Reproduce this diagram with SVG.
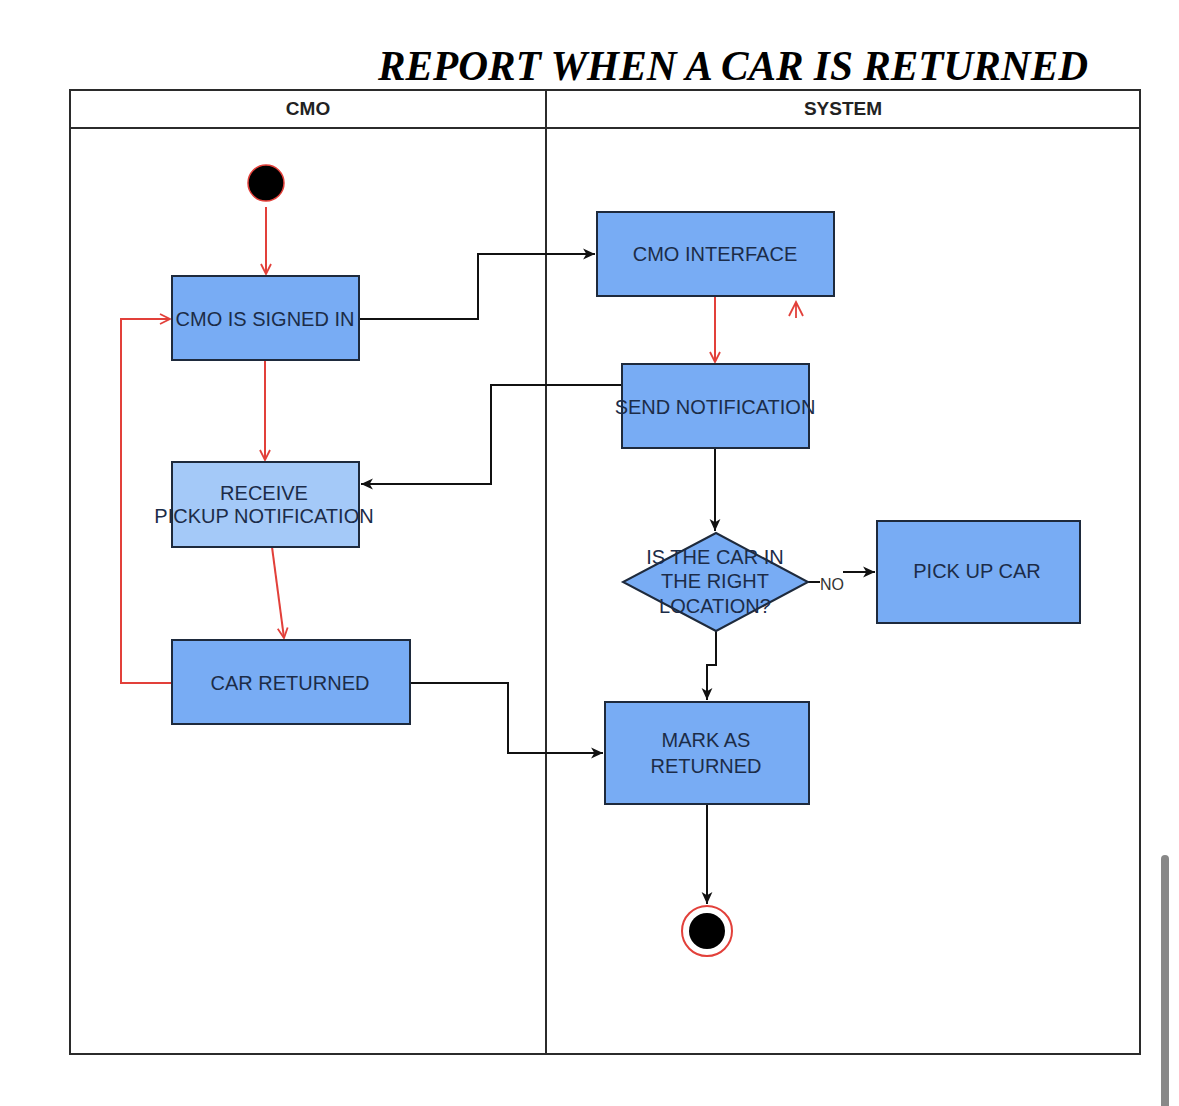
<svg xmlns="http://www.w3.org/2000/svg" width="1179" height="1106" viewBox="0 0 1179 1106">
<defs>
<style>
.lane{fill:none;stroke:#2b2b2b;stroke-width:2}
.hdr{font-family:"Liberation Sans",Arial,sans-serif;font-size:19px;font-weight:bold;fill:#222;text-anchor:middle}
.box{fill:#78acf4;stroke:#1e2a3c;stroke-width:2}
.box2{fill:#a4c9f8;stroke:#1e2a3c;stroke-width:2}
.lbl{font-family:"Liberation Sans",Arial,sans-serif;font-size:20px;fill:#1c2c48;text-anchor:middle}
.red{fill:none;stroke:#e2403a;stroke-width:2}
.blk{fill:none;stroke:#111;stroke-width:2}
</style>
<marker id="openR" viewBox="0 0 12 12" refX="11" refY="6" markerWidth="12" markerHeight="12" markerUnits="userSpaceOnUse" orient="auto">
<path d="M1,1 L11,6 L1,11" fill="none" stroke="#e2403a" stroke-width="1.8"/>
</marker>
<marker id="fillB" viewBox="0 0 12 12" refX="11" refY="6" markerWidth="13" markerHeight="13" markerUnits="userSpaceOnUse" orient="auto">
<path d="M0,1 L11,6 L0,11 L3,6 Z" fill="#111"/>
</marker>
</defs>
<rect width="1179" height="1106" fill="#fff"/>
<text x="733" y="80" font-family="'Liberation Serif','Times New Roman',serif" font-size="42" font-weight="bold" font-style="italic" fill="#000" text-anchor="middle" textLength="710" lengthAdjust="spacingAndGlyphs">REPORT WHEN A CAR IS RETURNED</text>
<g id="pool">
<rect class="lane" x="70" y="90" width="1070" height="964"/>
<line class="lane" x1="70" y1="128" x2="1140" y2="128"/>
<line class="lane" x1="546" y1="90" x2="546" y2="1054"/>
<text class="hdr" x="308" y="115">CMO</text>
<text class="hdr" x="843" y="115">SYSTEM</text>
</g>
<g id="connectors">
<path class="red" d="M266,207 V274" marker-end="url(#openR)"/>
<path class="blk" d="M359,319 H478 V254 H595" marker-end="url(#fillB)"/>
<path class="red" d="M715,296 V362" marker-end="url(#openR)"/>
<path d="M789,316 L796,302 L803,316 M796,302 V318" fill="none" stroke="#e2403a" stroke-width="1.8"/>
<path class="blk" d="M622,385 H491 V484 H361" marker-end="url(#fillB)"/>
<path class="red" d="M265,360 V460" marker-end="url(#openR)"/>
<path class="red" d="M272,547 L284,638" marker-end="url(#openR)"/>
<path class="red" d="M172,683 H121 V319 H170" marker-end="url(#openR)"/>
<path class="blk" d="M410,683 H508 V753 H603" marker-end="url(#fillB)"/>
<path class="blk" d="M715,448 V531" marker-end="url(#fillB)"/>
<path class="blk" d="M808,582 H820"/>
<path class="blk" d="M843,572 H875" marker-end="url(#fillB)"/>
<text x="832" y="590" font-family="'Liberation Sans',Arial,sans-serif" font-size="16" fill="#333" text-anchor="middle">NO</text>
<path class="blk" d="M716,631 V665 H707 V700" marker-end="url(#fillB)"/>
<path class="blk" d="M707,804 V904" marker-end="url(#fillB)"/>
</g>
<g id="start">
<circle cx="266" cy="183" r="18" fill="#000" stroke="#e2403a" stroke-width="1.5"/>
</g>
<g id="signed-in">
<rect class="box" x="172" y="276" width="187" height="84"/>
<text class="lbl" x="265" y="326">CMO IS SIGNED IN</text>
</g>
<g id="receive">
<rect class="box2" x="172" y="462" width="187" height="85"/>
<text class="lbl" x="264" y="500">RECEIVE</text>
<text class="lbl" x="264" y="523">PICKUP NOTIFICATION</text>
</g>
<g id="car-returned">
<rect class="box" x="172" y="640" width="238" height="84"/>
<text class="lbl" x="290" y="690">CAR RETURNED</text>
</g>
<g id="cmo-interface">
<rect class="box" x="597" y="212" width="237" height="84"/>
<text class="lbl" x="715" y="261">CMO INTERFACE</text>
</g>
<g id="send-notification">
<rect class="box" x="622" y="364" width="187" height="84"/>
<text class="lbl" x="715" y="414">SEND NOTIFICATION</text>
</g>
<g id="decision">
<polygon class="box" points="716,533 808,582 716,631 623,582"/>
<text class="lbl" x="715" y="564">IS THE CAR IN</text>
<text class="lbl" x="715" y="588">THE RIGHT</text>
<text class="lbl" x="715" y="613">LOCATION?</text>
</g>
<g id="pick-up">
<rect class="box" x="877" y="521" width="203" height="102"/>
<text class="lbl" x="977" y="578">PICK UP CAR</text>
</g>
<g id="mark-returned">
<rect class="box" x="605" y="702" width="204" height="102"/>
<text class="lbl" x="706" y="747">MARK AS</text>
<text class="lbl" x="706" y="773">RETURNED</text>
</g>
<g id="end">
<circle cx="707" cy="931" r="25" fill="#fff" stroke="#e2403a" stroke-width="2"/>
<circle cx="707" cy="931" r="18" fill="#000"/>
</g>
<rect x="1161" y="855" width="8" height="260" rx="4" fill="#888"/>
</svg>
